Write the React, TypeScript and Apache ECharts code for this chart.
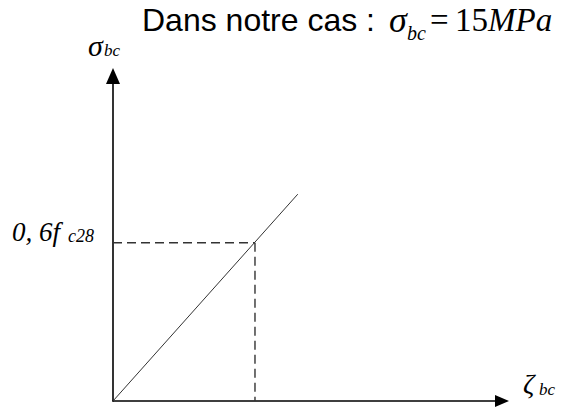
import React, { useEffect, useRef } from "react";
import * as echarts from "echarts";

// Linear-elastic stress–strain diagram of concrete (ELS)
const strainAxisMax = 10;
const stressAxisMax = 30.8;
const limitStrain = 3.65;
const limitStress = 15; // 0,6 fc28 = 15 MPa
const elasticLine: [number, number][] = [
  [0, 0],
  [4.75, 19.6],
];
const limitHorizontal: [number, number][] = [
  [0, limitStress],
  [limitStrain, limitStress],
];
const limitVertical: [number, number][] = [
  [limitStrain, limitStress],
  [limitStrain, 0],
];

const serif = "'Liberation Serif', 'Times New Roman', serif";
const sans = "'Liberation Sans', Arial, sans-serif";

function txt(text: string, x: number, y: number, size: number, italic = true, family = serif) {
  return {
    type: "text",
    x,
    y,
    style: {
      text,
      font: `${italic ? "italic " : ""}${size}px ${family}`,
      fill: "#000",
      align: "left",
      verticalAlign: "middle",
    },
  };
}

export default function App() {
  const ref = useRef<HTMLDivElement>(null);

  useEffect(() => {
    if (!ref.current) return;
    const chart = echarts.init(ref.current, null, { renderer: "svg" });
    chart.setOption({
      animation: false,
      backgroundColor: "#fff",
      grid: { left: 113, right: 59, top: 76, bottom: 7, containLabel: false },
      xAxis: {
        type: "value",
        min: 0,
        max: strainAxisMax,
        axisLine: {
          show: true,
          symbol: ["none", "triangle"],
          symbolSize: [12, 14],
          lineStyle: { color: "#000", width: 1.6 },
        },
        axisTick: { show: false },
        axisLabel: { show: false },
        splitLine: { show: false },
      },
      yAxis: {
        type: "value",
        min: 0,
        max: stressAxisMax,
        axisLine: {
          show: true,
          symbol: ["none", "triangle"],
          symbolSize: [14, 16],
          lineStyle: { color: "#000", width: 1.6 },
        },
        axisTick: { show: false },
        axisLabel: { show: false },
        splitLine: { show: false },
      },
      series: [
        {
          type: "line",
          data: elasticLine,
          symbol: "none",
          lineStyle: { color: "#333", width: 1 },
        },
        {
          type: "line",
          data: limitHorizontal,
          symbol: "none",
          lineStyle: { color: "#333", width: 1.4, type: [9, 5] },
        },
        {
          type: "line",
          data: limitVertical,
          symbol: "none",
          lineStyle: { color: "#333", width: 1.4, type: [9, 5] },
        },
      ],
      graphic: [
        txt("Dans notre cas :", 142, 20, 32, false, sans),
        txt("σ", 389, 19.8, 36),
        txt("bc", 407, 32.5, 20),
        txt("=", 430, 20, 33, false),
        {
          type: "text",
          x: 455,
          y: 19.8,
          style: {
            text: "{n|15}{i|MPa}",
            align: "left",
            verticalAlign: "middle",
            rich: {
              n: { font: `33px ${serif}`, fill: "#000" },
              i: { font: `italic 33px ${serif}`, fill: "#000" },
            },
          },
        },
        txt("σ", 88, 45.5, 30),
        txt("bc", 104, 50.3, 17),
        txt("0, 6f", 12, 231.9, 27),
        txt("c28", 68, 236, 18),
        txt("ζ", 523, 383, 28),
        txt("bc", 539, 389.6, 17),
      ],
    });
    return () => chart.dispose();
  }, []);

  return <div ref={ref} style={{ width: 561, height: 408, position: "absolute", left: 0, top: 0 }} />;
}
